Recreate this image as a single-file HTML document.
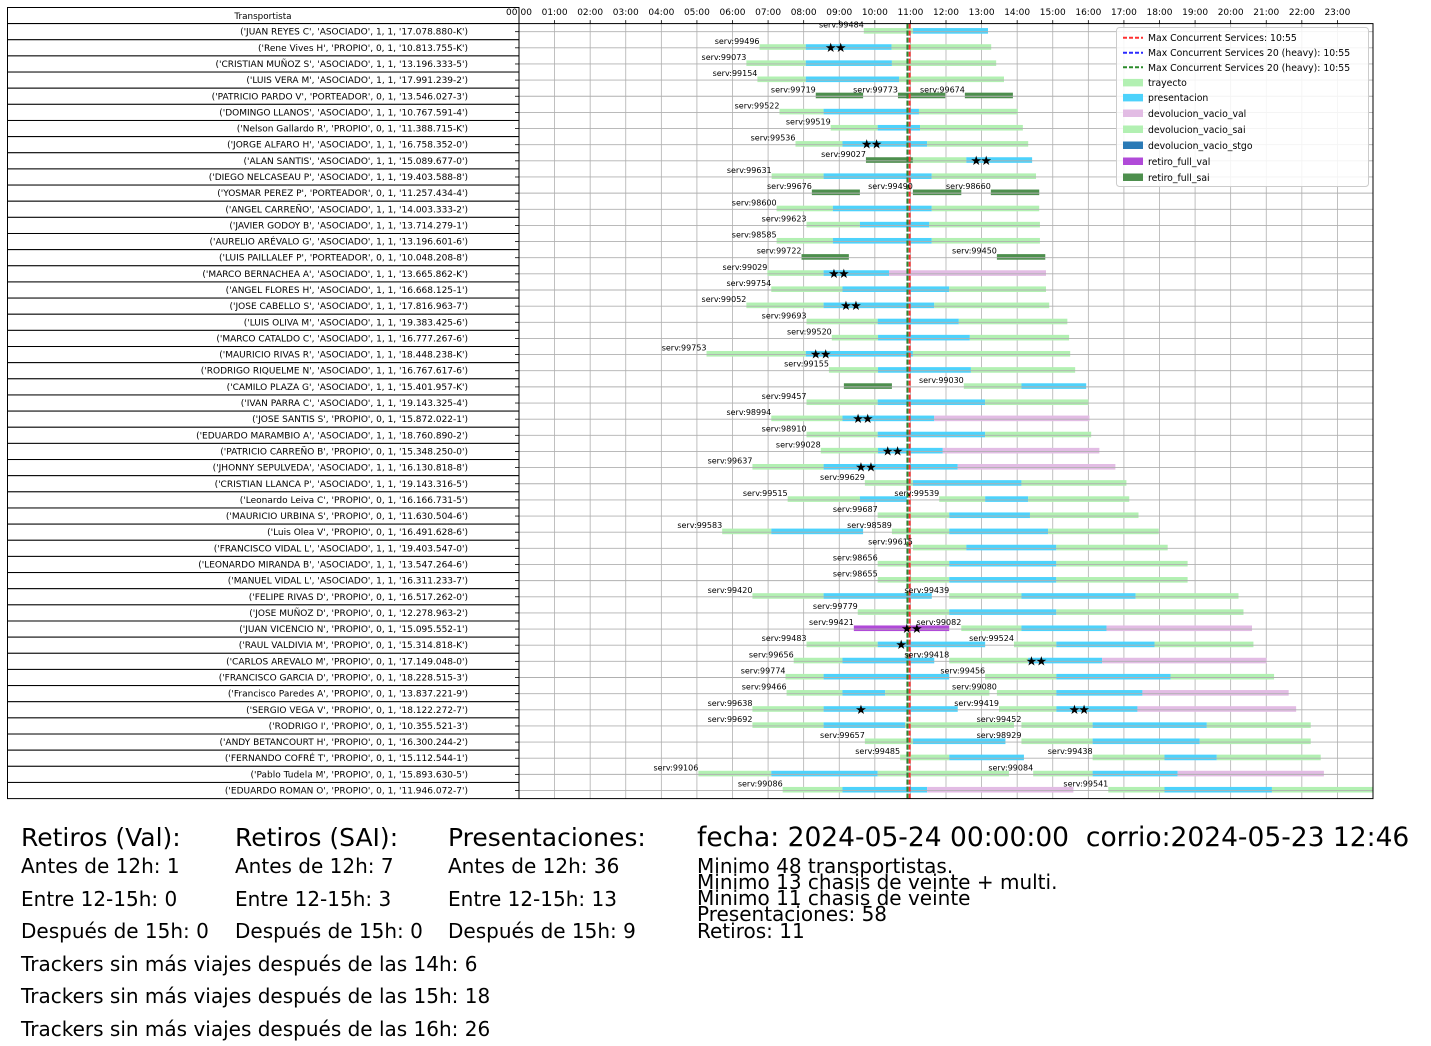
<!DOCTYPE html>
<html><head><meta charset="utf-8"><style>
html,body{margin:0;padding:0;background:#fff;}
svg{display:block;font-family:"DejaVu Sans","Liberation Sans",sans-serif;}
</style></head><body>
<svg id="chart" width="1431" height="1046" viewBox="0 0 1431 1046" xmlns="http://www.w3.org/2000/svg">
<g id="grid"></g>
<g id="table"></g>
<g id="bars"></g>
<g id="hgrid"></g>
<g id="vlines"></g>
<g id="labels"></g>
<g id="stars"></g>
<g id="axes"></g>
<g id="legend"></g>
<g id="summary" fill="#000">
<text x="21" y="846" font-size="25">Retiros (Val):</text>
<text x="21" y="873" font-size="20">Antes de 12h: 1</text>
<text x="21" y="906" font-size="20">Entre 12-15h: 0</text>
<text x="21" y="938" font-size="20">Después de 15h: 0</text>
<text x="21" y="971" font-size="20">Trackers sin más viajes después de las 14h: 6</text>
<text x="21" y="1003" font-size="20">Trackers sin más viajes después de las 15h: 18</text>
<text x="21" y="1036" font-size="20">Trackers sin más viajes después de las 16h: 26</text>
<text x="235" y="846" font-size="25">Retiros (SAI):</text>
<text x="235" y="873" font-size="20">Antes de 12h: 7</text>
<text x="235" y="906" font-size="20">Entre 12-15h: 3</text>
<text x="235" y="938" font-size="20">Después de 15h: 0</text>
<text x="448" y="846" font-size="25">Presentaciones:</text>
<text x="448" y="873" font-size="20">Antes de 12h: 36</text>
<text x="448" y="906" font-size="20">Entre 12-15h: 13</text>
<text x="448" y="938" font-size="20">Después de 15h: 9</text>
<text x="697" y="846" font-size="26.5">fecha: 2024-05-24 00:00:00&#160; corrio:2024-05-23 12:46</text>
<text x="697" y="873" font-size="20">Minimo 48 transportistas.</text>
<text x="697" y="889" font-size="20">Minimo 13 chasis de veinte + multi.</text>
<text x="697" y="905" font-size="20">Minimo 11 chasis de veinte</text>
<text x="697" y="921" font-size="20">Presentaciones: 58</text>
<text x="697" y="938" font-size="20">Retiros: 11</text>
</g>
</svg>
<script>
const transportistas = [
"('JUAN REYES C', 'ASOCIADO', 1, 1, '17.078.880-K')",
"('Rene Vives H', 'PROPIO', 0, 1, '10.813.755-K')",
"('CRISTIAN MUÑOZ S', 'ASOCIADO', 1, 1, '13.196.333-5')",
"('LUIS VERA M', 'ASOCIADO', 1, 1, '17.991.239-2')",
"('PATRICIO PARDO V', 'PORTEADOR', 0, 1, '13.546.027-3')",
"('DOMINGO LLANOS', 'ASOCIADO', 1, 1, '10.767.591-4')",
"('Nelson Gallardo R', 'PROPIO', 0, 1, '11.388.715-K')",
"('JORGE ALFARO H', 'ASOCIADO', 1, 1, '16.758.352-0')",
"('ALAN SANTIS', 'ASOCIADO', 1, 1, '15.089.677-0')",
"('DIEGO NELCASEAU P', 'ASOCIADO', 1, 1, '19.403.588-8')",
"('YOSMAR PEREZ P', 'PORTEADOR', 0, 1, '11.257.434-4')",
"('ANGEL CARREÑO', 'ASOCIADO', 1, 1, '14.003.333-2')",
"('JAVIER GODOY B', 'ASOCIADO', 1, 1, '13.714.279-1')",
"('AURELIO ARÉVALO G', 'ASOCIADO', 1, 1, '13.196.601-6')",
"('LUIS PAILLALEF P', 'PORTEADOR', 0, 1, '10.048.208-8')",
"('MARCO BERNACHEA A', 'ASOCIADO', 1, 1, '13.665.862-K')",
"('ANGEL FLORES H', 'ASOCIADO', 1, 1, '16.668.125-1')",
"('JOSE CABELLO S', 'ASOCIADO', 1, 1, '17.816.963-7')",
"('LUIS OLIVA M', 'ASOCIADO', 1, 1, '19.383.425-6')",
"('MARCO CATALDO C', 'ASOCIADO', 1, 1, '16.777.267-6')",
"('MAURICIO RIVAS R', 'ASOCIADO', 1, 1, '18.448.238-K')",
"('RODRIGO RIQUELME N', 'ASOCIADO', 1, 1, '16.767.617-6')",
"('CAMILO PLAZA G', 'ASOCIADO', 1, 1, '15.401.957-K')",
"('IVAN PARRA C', 'ASOCIADO', 1, 1, '19.143.325-4')",
"('JOSE SANTIS S', 'PROPIO', 0, 1, '15.872.022-1')",
"('EDUARDO MARAMBIO A', 'ASOCIADO', 1, 1, '18.760.890-2')",
"('PATRICIO CARREÑO B', 'PROPIO', 0, 1, '15.348.250-0')",
"('JHONNY SEPULVEDA', 'ASOCIADO', 1, 1, '16.130.818-8')",
"('CRISTIAN LLANCA P', 'ASOCIADO', 1, 1, '19.143.316-5')",
"('Leonardo Leiva C', 'PROPIO', 0, 1, '16.166.731-5')",
"('MAURICIO URBINA S', 'PROPIO', 0, 1, '11.630.504-6')",
"('Luis Olea V', 'PROPIO', 0, 1, '16.491.628-6')",
"('FRANCISCO VIDAL L', 'ASOCIADO', 1, 1, '19.403.547-0')",
"('LEONARDO MIRANDA B', 'ASOCIADO', 1, 1, '13.547.264-6')",
"('MANUEL VIDAL L', 'ASOCIADO', 1, 1, '16.311.233-7')",
"('FELIPE RIVAS D', 'PROPIO', 0, 1, '16.517.262-0')",
"('JOSE MUÑOZ D', 'PROPIO', 0, 1, '12.278.963-2')",
"('JUAN VICENCIO N', 'PROPIO', 0, 1, '15.095.552-1')",
"('RAUL VALDIVIA M', 'PROPIO', 0, 1, '15.314.818-K')",
"('CARLOS AREVALO M', 'PROPIO', 0, 1, '17.149.048-0')",
"('FRANCISCO GARCIA D', 'PROPIO', 0, 1, '18.228.515-3')",
"('Francisco Paredes A', 'PROPIO', 0, 1, '13.837.221-9')",
"('SERGIO VEGA V', 'PROPIO', 0, 1, '18.122.272-7')",
"('RODRIGO  I', 'PROPIO', 0, 1, '10.355.521-3')",
"('ANDY BETANCOURT H', 'PROPIO', 0, 1, '16.300.244-2')",
"('FERNANDO COFRÉ T', 'PROPIO', 0, 1, '15.112.544-1')",
"('Pablo Tudela M', 'PROPIO', 0, 1, '15.893.630-5')",
"('EDUARDO ROMAN O', 'PROPIO', 0, 1, '11.946.072-7')"
];
const hourTicks = ["00:00","01:00","02:00","03:00","04:00","05:00","06:00","07:00","08:00","09:00","10:00","11:00","12:00","13:00","14:00","15:00","16:00","17:00","18:00","19:00","20:00","21:00","22:00","23:00"];
const tripRow = [0,1,2,3,4,4,4,5,6,7,8,9,10,10,10,11,12,13,14,14,15,16,17,18,19,20,21,22,22,23,24,25,26,27,28,29,29,30,31,31,32,33,34,35,35,36,37,37,38,38,39,39,40,40,41,41,42,42,43,43,44,44,45,45,46,46,47,47];
const tripLabel = ["serv:99484","serv:99496","serv:99073","serv:99154","serv:99719","serv:99773","serv:99674","serv:99522","serv:99519","serv:99536","serv:99027","serv:99631","serv:99676","serv:99490","serv:98660","serv:98600","serv:99623","serv:98585","serv:99722","serv:99450","serv:99029","serv:99754","serv:99052","serv:99693","serv:99520","serv:99753","serv:99155","","serv:99030","serv:99457","serv:98994","serv:98910","serv:99028","serv:99637","serv:99629","serv:99515","serv:99539","serv:99687","serv:99583","serv:98589","serv:99615","serv:98656","serv:98655","serv:99420","serv:99439","serv:99779","serv:99421","serv:99082","serv:99483","serv:99524","serv:99656","serv:99418","serv:99774","serv:99456","serv:99466","serv:99080","serv:99638","serv:99419","serv:99692","serv:99452","serv:99657","serv:98929","serv:99485","serv:99438","serv:99106","serv:99084","serv:99086","serv:99541"];
const tripSegs = [
[["trayecto",9.69,11.07],["presentacion",11.07,13.18]],
[["trayecto",6.76,8.06],["presentacion",8.06,10.47],["trayecto",10.47,13.27]],
[["trayecto",6.39,8.06],["presentacion",8.06,10.48],["trayecto",10.48,13.41]],
[["trayecto",6.70,8.06],["presentacion",8.06,10.68],["trayecto",10.68,13.63]],
[["retiro_full_sai",8.34,9.67]],
[["retiro_full_sai",10.65,11.98]],
[["retiro_full_sai",12.53,13.88]],
[["trayecto",7.32,8.56],["presentacion",8.56,11.24],["trayecto",11.24,14.02]],
[["trayecto",8.76,10.08],["presentacion",10.08,11.27],["trayecto",11.27,14.16]],
[["trayecto",7.77,9.09],["presentacion",9.09,11.47],["trayecto",11.47,14.31]],
[["retiro_full_sai",9.75,11.07],["trayecto",11.07,12.57],["presentacion",12.57,14.42]],
[["trayecto",7.10,8.56],["presentacion",8.56,11.60],["trayecto",11.60,14.53]],
[["retiro_full_sai",8.23,9.58]],
[["retiro_full_sai",11.07,12.43]],
[["retiro_full_sai",13.26,14.62]],
[["trayecto",7.24,8.82],["presentacion",8.82,11.60],["trayecto",11.60,14.62]],
[["trayecto",8.08,9.58],["presentacion",9.58,11.53],["trayecto",11.53,14.64]],
[["trayecto",7.24,8.82],["presentacion",8.82,11.60],["trayecto",11.60,14.64]],
[["retiro_full_sai",7.94,9.27]],
[["retiro_full_sai",13.43,14.79]],
[["trayecto",6.98,8.56],["presentacion",8.56,10.40],["devolucion_vacio_val",10.40,14.81]],
[["trayecto",7.09,9.09],["presentacion",9.09,12.09],["trayecto",12.09,14.81]],
[["trayecto",6.39,8.56],["presentacion",8.56,11.67],["trayecto",11.67,14.90]],
[["trayecto",8.08,10.08],["presentacion",10.08,12.36],["trayecto",12.36,15.41]],
[["trayecto",8.79,10.09],["presentacion",10.09,12.67],["trayecto",12.67,15.46]],
[["trayecto",5.27,8.06],["presentacion",8.06,11.07],["trayecto",11.07,15.49]],
[["trayecto",8.71,10.09],["presentacion",10.09,12.70],["trayecto",12.70,15.63]],
[["retiro_full_sai",9.13,10.48]],
[["trayecto",12.50,14.12],["presentacion",14.12,15.94]],
[["trayecto",8.08,10.08],["presentacion",10.08,13.10],["trayecto",13.10,16.00]],
[["trayecto",7.09,9.09],["presentacion",9.09,11.67],["devolucion_vacio_val",11.67,16.03]],
[["trayecto",8.08,10.08],["presentacion",10.08,13.10],["trayecto",13.10,16.08]],
[["trayecto",8.48,10.09],["presentacion",10.09,11.91],["devolucion_vacio_val",11.91,16.31]],
[["trayecto",6.56,8.56],["presentacion",8.56,12.33],["devolucion_vacio_val",12.33,16.76]],
[["trayecto",9.72,11.07],["presentacion",11.07,14.12],["trayecto",14.12,17.07]],
[["trayecto",7.55,9.58],["presentacion",9.58,10.90]],
[["trayecto",11.81,13.10],["presentacion",13.10,14.31],["trayecto",14.31,17.15]],
[["trayecto",10.08,12.09],["presentacion",12.09,14.36],["trayecto",14.36,17.41]],
[["trayecto",5.71,7.09],["presentacion",7.09,9.67]],
[["trayecto",10.48,12.09],["presentacion",12.09,14.87],["trayecto",14.87,17.98]],
[["trayecto",11.07,12.57],["presentacion",12.57,15.10],["trayecto",15.10,18.23]],
[["trayecto",10.08,12.09],["presentacion",12.09,15.10],["trayecto",15.10,18.79]],
[["trayecto",10.08,12.09],["presentacion",12.09,15.10],["trayecto",15.10,18.79]],
[["trayecto",6.56,8.56],["presentacion",8.56,11.60]],
[["trayecto",12.09,14.12],["presentacion",14.12,17.33],["trayecto",17.33,20.22]],
[["trayecto",9.52,12.09],["presentacion",12.09,15.10],["trayecto",15.10,20.36]],
[["retiro_full_val",9.41,12.09]],
[["trayecto",12.43,14.12],["presentacion",14.12,16.51],["devolucion_vacio_val",16.51,20.60]],
[["trayecto",8.08,10.08],["presentacion",10.08,13.10]],
[["trayecto",13.91,15.10],["presentacion",15.10,17.86],["trayecto",17.86,20.64]],
[["trayecto",7.72,9.09],["presentacion",9.09,11.67]],
[["trayecto",12.09,14.31],["presentacion",14.31,16.39],["devolucion_vacio_val",16.39,21.01]],
[["trayecto",7.49,8.56],["presentacion",8.56,12.09]],
[["trayecto",13.10,15.10],["presentacion",15.10,18.31],["trayecto",18.31,21.22]],
[["trayecto",7.52,9.09],["presentacion",9.09,10.29],["trayecto",10.29,13.22]],
[["trayecto",13.43,15.10],["presentacion",15.10,17.52],["devolucion_vacio_val",17.52,21.63]],
[["trayecto",6.56,8.56],["presentacion",8.56,12.33]],
[["trayecto",13.49,15.10],["presentacion",15.10,17.38],["devolucion_vacio_val",17.38,21.84]],
[["trayecto",6.56,8.56],["presentacion",8.56,10.85],["trayecto",10.85,13.91]],
[["trayecto",14.12,16.12],["presentacion",16.12,19.33],["trayecto",19.33,22.25]],
[["trayecto",9.72,11.07],["presentacion",11.07,13.67]],
[["trayecto",14.12,16.12],["presentacion",16.12,19.13],["trayecto",19.13,22.25]],
[["trayecto",10.71,12.09],["presentacion",12.09,14.19]],
[["trayecto",16.12,18.14],["presentacion",18.14,19.61],["trayecto",19.61,22.53]],
[["trayecto",5.04,7.09],["presentacion",7.09,10.08],["trayecto",10.08,13.77]],
[["trayecto",14.45,16.12],["presentacion",16.12,18.51],["devolucion_vacio_val",18.51,22.62]],
[["trayecto",7.41,9.09],["presentacion",9.09,11.47],["devolucion_vacio_val",11.47,15.58]],
[["trayecto",16.56,18.14],["presentacion",18.14,21.16],["trayecto",21.16,24]]
];
const starRow = [1,1,7,7,8,8,15,15,17,17,20,20,24,24,26,26,27,27,37,37,38,39,39,42,42,42];
const starHour = [8.76,9.04,9.77,10.05,12.85,13.13,8.85,9.13,9.19,9.47,8.34,8.62,9.53,9.80,10.36,10.64,9.61,9.89,10.90,11.18,10.74,14.40,14.68,9.61,15.61,15.88];
const maxConcurrentHour = [10.917, 10.917, 10.917];
const legendLabels = ["Max Concurrent Services: 10:55","Max Concurrent Services 20 (heavy): 10:55","Max Concurrent Services 20 (heavy): 10:55","trayecto","presentacion","devolucion_vacio_val","devolucion_vacio_sai","devolucion_vacio_stgo","retiro_full_val","retiro_full_sai"];

const NS = "http://www.w3.org/2000/svg";
const colors = {trayecto:"#b2f0b2",presentacion:"#4dd2fb",devolucion_vacio_val:"#e2bce4",devolucion_vacio_sai:"#b2f0b2",devolucion_vacio_stgo:"#2a7ab6",retiro_full_val:"#b04ad8",retiro_full_sai:"#4d8f4d"};
const X0 = 519, X1 = 1373, TOP = 23.6, BOT = 798.6;
const ROWH = (BOT - TOP) / transportistas.length;
function xs(h){ return X0 + h * (X1 - X0) / 24; }
function yc(i){ return TOP + (i + 0.5) * ROWH; }
function mk(tag, attrs, parent, text){
  const e = document.createElementNS(NS, tag);
  for (const k in attrs) e.setAttribute(k, attrs[k]);
  if (text !== undefined) e.textContent = text;
  parent.appendChild(e);
  return e;
}
const G = id => document.getElementById(id);

hourTicks.forEach((t, i) => {
  const x = xs(i);
  const ln = mk("line", {x1:x, x2:x, y1:TOP, y2:BOT, stroke:"#b0b0b0", "stroke-width":0.8}, G("grid"));
  
  
  const tk = mk("line", {x1:x, x2:x, y1:TOP, y2:TOP-3.5, stroke:"#000", "stroke-width":0.8}, G("axes"));
  
  
  const tl = mk("text", {x:x, y:15, "font-size":9, "text-anchor":"middle"}, G("axes"), t);
  
  
});

const hdr = mk("rect", {x:7.5, y:7.5, width:511.5, height:16, fill:"#fff", stroke:"#000", "stroke-width":1}, G("table"));


const hdrT = mk("text", {x:263, y:19, "font-size":8.8, "text-anchor":"middle"}, G("table"), "Transportista");


transportistas.forEach((name, i) => {
  const y0 = TOP + i * ROWH;
  const r = mk("rect", {x:7.5, y:y0, width:511.5, height:ROWH, fill:"#fff", stroke:"#000", "stroke-width":1}, G("table"));
  
  
  const t = mk("text", {x:468, y:yc(i)+3, "font-size":9, "text-anchor":"end"}, G("table"), name);
  
  
  const tk = mk("line", {x1:515, x2:519, y1:yc(i), y2:yc(i), stroke:"#000", "stroke-width":0.8}, G("axes"));
  
  
  const hg = mk("line", {x1:X0, x2:X1, y1:yc(i), y2:yc(i), stroke:"#b0b0b0", "stroke-width":0.9}, G("hgrid"));
  
  
});

tripRow.forEach((row, k) => {
  const c = yc(row);
  tripSegs[k].forEach(s => {
    const x1 = xs(s[1]), x2 = xs(Math.min(s[2], 24));
    const b = mk("rect", {x:x1, y:c-3.6, width:Math.max(0, x2-x1), height:5.6, fill:colors[s[0]]}, G("bars"));
    
    
  });
  if (tripLabel[k]) {
    const t = mk("text", {x:xs(tripSegs[k][0][1]), y:c-4, "font-size":8, "text-anchor":"end"}, G("labels"), tripLabel[k]);
    
    
  }
});

starRow.forEach((row, k) => {
  const s = mk("text", {x:xs(starHour[k]), y:yc(row)+4, "font-size":13, "text-anchor":"middle", fill:"#000"}, G("stars"), "★");
  
  
});

const lineColors = ["#ff3030","#2a2aff","#2a8a2a"];
[1, 2, 0].forEach(j => {
  const x = xs(maxConcurrentHour[j]) + (j === 0 ? 2.2 : 0);
  const l = mk("line", {x1:x, x2:x, y1:TOP, y2:BOT, stroke:lineColors[j], "stroke-width":2, "stroke-dasharray":"5,2"}, G("vlines"));
  
  
});

const fr = mk("rect", {x:X0, y:TOP, width:X1-X0, height:BOT-TOP, fill:"none", stroke:"#000", "stroke-width":1}, G("axes"));



const lg = G("legend");
const box = mk("rect", {x:1116.5, y:27.5, width:252, height:159, rx:3, fill:"#fff", "fill-opacity":0.85, stroke:"#ccc", "stroke-width":1}, lg);


const legendY = [37.7,52.7,67.3,82.7,97.7,113.3,129.3,145.3,161.3,177.3];
const legendKind = ["line:#ff3030","line:#2a2aff","line:#2a8a2a","trayecto","presentacion","devolucion_vacio_val","devolucion_vacio_sai","devolucion_vacio_stgo","retiro_full_val","retiro_full_sai"];
legendLabels.forEach((lab, i) => {
  const y = legendY[i];
  const kind = legendKind[i];
  let sw;
  if (kind.startsWith("line:")) {
    sw = mk("line", {x1:1123, x2:1143, y1:y, y2:y, stroke:kind.slice(5), "stroke-width":2, "stroke-dasharray":"4,2"}, lg);
  } else {
    sw = mk("rect", {x:1123, y:y-3.8, width:20, height:7.5, fill:colors[kind]}, lg);
  }
  
  
  const t = mk("text", {x:1148, y:y+3.5, "font-size":9.3}, lg, lab);
  
  
});
</script>
</body></html>
